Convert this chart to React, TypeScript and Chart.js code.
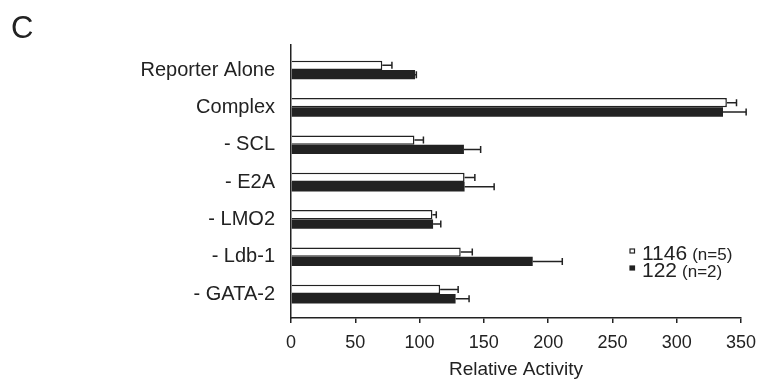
import React, { useEffect, useRef } from 'react';
import { Chart, registerables } from 'chart.js';

Chart.register(...registerables);

const categories = ['Reporter Alone', 'Complex', '- SCL', '- E2A', '- LMO2', '- Ldb-1', '- GATA-2'];
const values1146 = [71, 339, 96, 135, 110, 132, 116];
const errors1146 = [7.5, 7.5, 7, 8, 3, 9, 14];
const values122 = [96.5, 336, 134.5, 135, 110.5, 188, 128];
const errors122 = [1, 18, 13, 23, 6, 23, 10.5];
const seriesNames = ['1146', '122'];
const seriesNotes = ['(n=5)', '(n=2)'];
const xTitle = 'Relative Activity';
const panelLabel = 'C';
const xMin = 0;
const xMax = 350;
const xStep = 50;

const INK = '#222222';
const FONT = '"Liberation Sans", Arial, sans-serif';

const errorBarPlugin = {
  id: 'errorBars',
  afterDatasetsDraw(chart: any) {
    const ctx = chart.ctx;
    const xs = chart.scales.x;
    chart.data.datasets.forEach((ds: any, di: number) => {
      const meta = chart.getDatasetMeta(di);
      meta.data.forEach((bar: any, i: number) => {
        const v = ds.data[i].x;
        const e = ds.errors[i];
        const x0 = bar.x;
        const x1 = xs.getPixelForValue(v + e);
        const y = bar.y;
        ctx.save();
        ctx.strokeStyle = INK;
        ctx.lineWidth = 1.5;
        ctx.beginPath();
        ctx.moveTo(x0, y);
        ctx.lineTo(x1, y);
        ctx.moveTo(x1, y - 3.5);
        ctx.lineTo(x1, y + 3.5);
        ctx.stroke();
        ctx.restore();
      });
    });
  },
};

const decorPlugin = {
  id: 'decor',
  afterDraw(chart: any) {
    const ctx = chart.ctx;
    ctx.save();
    ctx.fillStyle = INK;
    ctx.font = `31px ${FONT}`;
    ctx.textBaseline = 'alphabetic';
    ctx.textAlign = 'left';
    ctx.fillText(panelLabel, 11, 38);

    const rows = [254, 271];
    chart.data.datasets.forEach((ds: any, i: number) => {
      const cy = rows[i];
      ctx.lineWidth = 1.2;
      ctx.strokeStyle = INK;
      ctx.fillStyle = ds.backgroundColor;
      ctx.fillRect(630, cy - 5, 4.5, 4);
      ctx.strokeRect(630, cy - 5, 4.5, 4);
      ctx.fillStyle = INK;
      ctx.textBaseline = 'middle';
      ctx.font = `21px ${FONT}`;
      ctx.fillText(seriesNames[i], 642, cy);
      const w = ctx.measureText(seriesNames[i]).width;
      ctx.font = `17px ${FONT}`;
      ctx.fillText(seriesNotes[i], 642 + w + 5, cy + 1);
    });
    ctx.restore();
  },
};

export default function App() {
  const ref = useRef<HTMLCanvasElement>(null);

  useEffect(() => {
    document.body.style.margin = '0';
    const canvas = ref.current;
    if (!canvas) return;
    const chart = new Chart(canvas, {
      type: 'bar',
      data: {
        datasets: [
          {
            label: seriesNames[0],
            data: values1146.map((v, i) => ({ x: v, y: i })),
            errors: errors1146,
            backgroundColor: '#ffffff',
            borderColor: INK,
            borderWidth: 1.5,
            barPercentage: 1,
            categoryPercentage: 0.5,
          } as any,
          {
            label: seriesNames[1],
            data: values122.map((v, i) => ({ x: v, y: i })),
            errors: errors122,
            backgroundColor: INK,
            borderColor: INK,
            borderWidth: 0,
            barPercentage: 1,
            categoryPercentage: 0.5,
          } as any,
        ],
      },
      options: {
        indexAxis: 'y',
        animation: false,
        responsive: false,
        maintainAspectRatio: false,
        layout: { autoPadding: false, padding: { top: 45, right: 17, left: 0, bottom: 0 } },
        plugins: {
          legend: { display: false },
          tooltip: { enabled: false },
        },
        scales: {
          y: {
            type: 'linear',
            position: 'left',
            reverse: true,
            offset: false,
            min: -0.67,
            max: 6.64,
            grid: { display: false, drawTicks: false },
            border: { display: true, color: INK, width: 1.5 },
            ticks: {
              stepSize: 1,
              includeBounds: false,
              autoSkip: false,
              padding: 16,
              color: INK,
              font: { family: FONT, size: 20 },
              callback: (v: any) => (Number.isInteger(v) && categories[v] !== undefined ? categories[v] : ''),
            },
            afterFit: (s: any) => {
              s.width = 291;
              s.paddingTop = 0;
              s.paddingBottom = 0;
            },
          },
          x: {
            type: 'linear',
            position: 'bottom',
            offset: false,
            min: xMin,
            max: xMax,
            grid: {
              display: true,
              drawOnChartArea: false,
              drawTicks: true,
              tickLength: 5,
              color: INK,
              lineWidth: 1.5,
            },
            border: { display: true, color: INK, width: 1.5 },
            ticks: {
              stepSize: xStep,
              padding: 9,
              color: INK,
              font: { family: FONT, size: 18 },
            },
            title: {
              display: true,
              text: xTitle,
              color: INK,
              font: { family: FONT, size: 19 },
              padding: { top: 0, bottom: 7 },
            },
            afterFit: (s: any) => {
              s.height = 70;
              s.paddingLeft = 0;
              s.paddingRight = 0;
            },
          },
        },
      } as any,
      plugins: [errorBarPlugin, decorPlugin],
    });
    return () => chart.destroy();
  }, []);

  return (
    <div style={{ width: 758, height: 388, position: 'relative', background: '#fff' }}>
      <canvas ref={ref} width={758} height={388} style={{ display: 'block' }} />
    </div>
  );
}
